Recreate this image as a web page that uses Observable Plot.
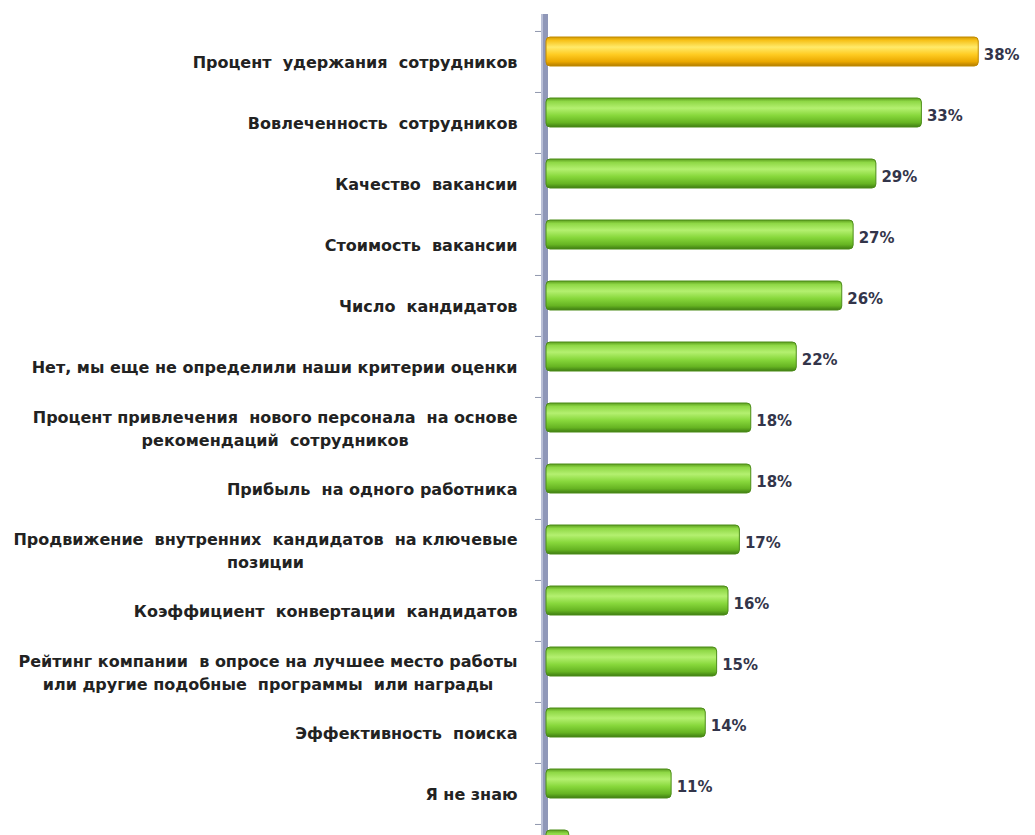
<!DOCTYPE html>
<html>
<head>
<meta charset="utf-8">
<script src="https://cdn.jsdelivr.net/npm/d3@7"></script>
<script src="https://cdn.jsdelivr.net/npm/@observablehq/plot@0.6"></script>
<style>
  html, body { margin: 0; padding: 0; background: #fff; overflow: hidden; }
  #chart { width: 1035px; height: 835px; overflow: hidden; }
</style>
</head>
<body>
<div id="chart"></div>
<script>
// ---- data ----
const categories = [
  "Процент  удержания  сотрудников",
  "Вовлеченность  сотрудников",
  "Качество  вакансии",
  "Стоимость  вакансии",
  "Число  кандидатов",
  "Нет, мы еще не определили наши критерии оценки",
  "Процент привлечения  нового персонала  на основе\nрекомендаций  сотрудников",
  "Прибыль  на одного работника",
  "Продвижение  внутренних  кандидатов  на ключевые\nпозиции",
  "Коэффициент  конвертации  кандидатов",
  "Рейтинг компании  в опросе на лучшее место работы\nили другие подобные  программы  или награды",
  "Эффективность  поиска",
  "Я не знаю",
  "Другое"
];
const values = [38, 33, 29, 27, 26, 22, 18, 18, 17, 16, 15, 14, 11, 2];
const valueLabels = ["38%", "33%", "29%", "27%", "26%", "22%", "18%", "18%", "17%", "16%", "15%", "14%", "11%", "2%"];

const data = categories.map((c, i) => ({category: c, value: values[i], label: valueLabels[i], idx: i}));
// the last row is cut off by the picture's bottom edge: only its bar shows
const visible = data.filter(d => d.idx < categories.length - 1);

// ---- layout ----
const W = 1035, H = 835;
const top0 = 30, step = 61.08;
const yRange = [top0, top0 + step * categories.length];
const labelFamily = "DejaVu Sans";
const labelSize = 16;
const lineH = 23;

const ctx = document.createElement("canvas").getContext("2d");
ctx.font = `bold ${labelSize}px "${labelFamily}"`;

const labelLines = [];
visible.forEach(d => {
  const lines = d.category.split("\n");
  const bw = d3.max(lines, l => ctx.measureText(l).width);
  lines.forEach((l, j) => labelLines.push({category: d.category, text: l, j, n: lines.length, bw}));
});

const defs = () => {
  const svgNS = "http://www.w3.org/2000/svg";
  const g = document.createElementNS(svgNS, "defs");
  g.innerHTML = `
    <linearGradient id="green" x1="0" y1="0" x2="0" y2="1">
      <stop offset="0" stop-color="#5c9e1e"/>
      <stop offset="0.12" stop-color="#8fd846"/>
      <stop offset="0.35" stop-color="#b4f070"/>
      <stop offset="0.6" stop-color="#88d83c"/>
      <stop offset="0.85" stop-color="#66b422"/>
      <stop offset="1" stop-color="#3f7d12"/>
    </linearGradient>
    <linearGradient id="gold" x1="0" y1="0" x2="0" y2="1">
      <stop offset="0" stop-color="#d59a00"/>
      <stop offset="0.12" stop-color="#f7c21a"/>
      <stop offset="0.35" stop-color="#ffea6a"/>
      <stop offset="0.6" stop-color="#ffcc22"/>
      <stop offset="0.85" stop-color="#eaa800"/>
      <stop offset="1" stop-color="#b27c00"/>
    </linearGradient>`;
  return g;
};

const barOpts = {x: "value", y: "category", insetTop: 6, insetBottom: 26, rx: 4};

const chart = Plot.plot({
  width: W,
  height: H,
  marginLeft: 546,
  marginRight: 34,
  marginTop: 14,
  marginBottom: 0,
  style: {overflow: "hidden", background: "#fff"},
  x: {domain: [0, 40], axis: null},
  y: {domain: categories, range: yRange, padding: 0, axis: null},
  marks: [
    defs,
    // axis wall
    Plot.ruleX([0], {stroke: "#8f97b8", strokeWidth: 7, dx: -2}),
    Plot.ruleX([0], {stroke: "#b9bfd6", strokeWidth: 2, dx: -4.5}),
    // category ticks at band boundaries
    Plot.axisY({tickSize: 6, tickFormat: () => "", label: null, dy: -step / 2, dx: -5, stroke: "#9097ad", anchor: "left"}),
    // bars
    Plot.barX(data.filter(d => d.idx === 0), {...barOpts, fill: "url(#gold)", stroke: "#c08a00", strokeWidth: 1}),
    Plot.barX(data.filter(d => d.idx > 0), {...barOpts, fill: "url(#green)", stroke: "#4c8c18", strokeWidth: 1}),
    // value labels
    Plot.text(visible, {x: "value", y: "category", text: "label", textAnchor: "start", dx: 5, dy: -7,
      fontFamily: labelFamily, fontWeight: "bold", fontSize: 15, fill: "#33354a"}),
    // category labels (centered block, right-aligned next to axis)
    ...labelLines.map(l => Plot.text([l], {x: () => 0, y: "category", text: "text", textAnchor: "middle",
      dx: -(29 + l.bw / 2), dy: (l.j - (l.n - 1) / 2) * lineH + 1,
      fontFamily: labelFamily, fontWeight: "bold", fontSize: labelSize, fill: "#222"}))
  ]
});
document.getElementById("chart").append(chart);
</script>
</body>
</html>
